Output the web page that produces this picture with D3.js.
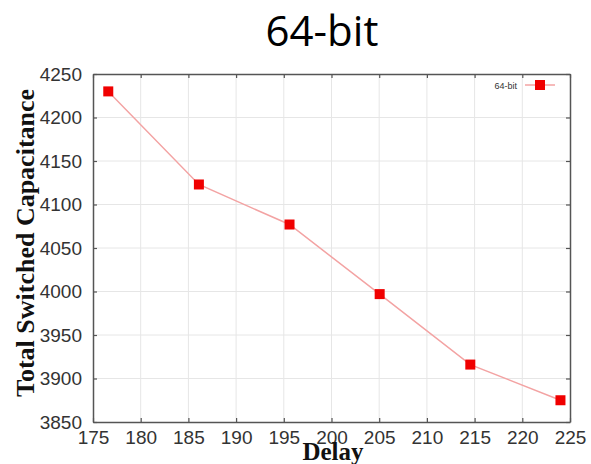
<!DOCTYPE html>
<html>
<head>
<meta charset="utf-8">
<script src="https://cdn.jsdelivr.net/npm/d3@7"></script>
<style>
  body { margin: 0; background: #fff; }
  .tick text { font-family: "Liberation Sans", Arial, sans-serif; font-size: 19px; fill: #333; }
</style>
</head>
<body>
<div class="chart"></div>
<script>
// data
var delay = [176.6, 186.1, 195.6, 205.05, 214.55, 224.0];
var capacitance = [4230, 4123, 4077, 3997, 3916, 3875];
var xTicks = [175, 180, 185, 190, 195, 200, 205, 210, 215, 220, 225];
var yTicks = [3850, 3900, 3950, 4000, 4050, 4100, 4150, 4200, 4250];
var seriesName = "64-bit";

var svgWidth = 591, svgHeight = 464;
var margin = { top: 74, right: 21, bottom: 42, left: 93 };
var width = svgWidth - margin.left - margin.right;
var height = svgHeight - margin.top - margin.bottom;

var svg = d3.select(".chart")
  .append("svg")
  .attr("width", svgWidth)
  .attr("height", svgHeight);

// title
svg.append("text")
  .attr("x", 322)
  .attr("y", 46)
  .attr("text-anchor", "middle")
  .style("font-family", "'Open Sans', sans-serif")
  .style("font-size", "42px")
  .style("fill", "#000")
  .text(seriesName);

var chartGroup = svg.append("g")
  .attr("transform", `translate(${margin.left}, ${margin.top})`);

var x = d3.scaleLinear().domain([175, 225]).range([0, width]);
var y = d3.scaleLinear().domain([3850, 4250]).range([height, 0]);

// grid
chartGroup.append("g").selectAll("line")
  .data(xTicks.slice(1, -1)).enter().append("line")
  .attr("x1", d => x(d)).attr("x2", d => x(d))
  .attr("y1", 0).attr("y2", height)
  .attr("stroke", "#e6e6e6").attr("stroke-width", 1);
chartGroup.append("g").selectAll("line")
  .data(yTicks.slice(1, -1)).enter().append("line")
  .attr("x1", 0).attr("x2", width)
  .attr("y1", d => y(d)).attr("y2", d => y(d))
  .attr("stroke", "#e6e6e6").attr("stroke-width", 1);

// axes (ticks point inward)
var axisColor = "#555";
var fmt = d3.format("d");
var bottomAxis = chartGroup.append("g")
  .attr("transform", `translate(0, ${height})`)
  .call(d3.axisBottom(x).tickValues(xTicks).tickFormat(fmt).tickSizeInner(-4).tickSizeOuter(0).tickPadding(7));
var leftAxis = chartGroup.append("g")
  .call(d3.axisLeft(y).tickValues(yTicks).tickFormat(fmt).tickSizeInner(-4).tickSizeOuter(0).tickPadding(11));
var topAxis = chartGroup.append("g")
  .call(d3.axisTop(x).tickValues(xTicks).tickSizeInner(-4).tickSizeOuter(0).tickFormat(""));
var rightAxis = chartGroup.append("g")
  .attr("transform", `translate(${width}, 0)`)
  .call(d3.axisRight(y).tickValues(yTicks).tickSizeInner(-4).tickSizeOuter(0).tickFormat(""));

[bottomAxis, leftAxis, topAxis, rightAxis].forEach(function (a) {
  a.select(".domain").attr("stroke", axisColor).attr("stroke-width", 1.5);
  a.selectAll(".tick line").attr("stroke", axisColor).attr("stroke-width", 1.2);
});
bottomAxis.selectAll(".tick text").attr("dy", "0.8em");

// line + markers
var pts = delay.map((d, i) => [d, capacitance[i]]);
chartGroup.append("path")
  .datum(pts)
  .attr("fill", "none")
  .attr("stroke", "#f3a3a3")
  .attr("stroke-width", 1.5)
  .attr("d", d3.line().x(d => x(d[0])).y(d => y(d[1])));

var ms = 10;
chartGroup.selectAll("rect.pt")
  .data(pts).enter().append("rect")
  .attr("class", "pt")
  .attr("x", d => x(d[0]) - ms / 2)
  .attr("y", d => y(d[1]) - ms / 2)
  .attr("width", ms).attr("height", ms)
  .attr("fill", "#f00000");

// legend
var lg = chartGroup.append("g").attr("transform", `translate(${width - 45}, 11)`);
lg.append("text")
  .attr("x", -8).attr("y", 4)
  .attr("text-anchor", "end")
  .style("font-family", "'Liberation Sans', Arial, sans-serif")
  .style("font-size", "9px")
  .style("fill", "#333")
  .text(seriesName);
lg.append("line")
  .attr("x1", 0).attr("x2", 30).attr("y1", 0).attr("y2", 0)
  .attr("stroke", "#f3a3a3").attr("stroke-width", 1.5);
lg.append("rect")
  .attr("x", 15 - ms / 2).attr("y", -ms / 2)
  .attr("width", ms).attr("height", ms)
  .attr("fill", "#f00000");

// axis labels
svg.append("text")
  .attr("transform", "rotate(-90)")
  .attr("x", -243)
  .attr("y", 34)
  .attr("text-anchor", "middle")
  .style("font-family", "'Liberation Serif', 'Times New Roman', serif")
  .style("font-weight", "bold")
  .style("font-size", "26px")
  .style("fill", "#111")
  .text("Total Switched Capacitance");

svg.append("text")
  .attr("x", 333)
  .attr("y", 460)
  .attr("text-anchor", "middle")
  .style("font-family", "'Liberation Serif', 'Times New Roman', serif")
  .style("font-weight", "bold")
  .style("font-size", "25px")
  .style("fill", "#111")
  .text("Delay");
</script>
</body>
</html>
